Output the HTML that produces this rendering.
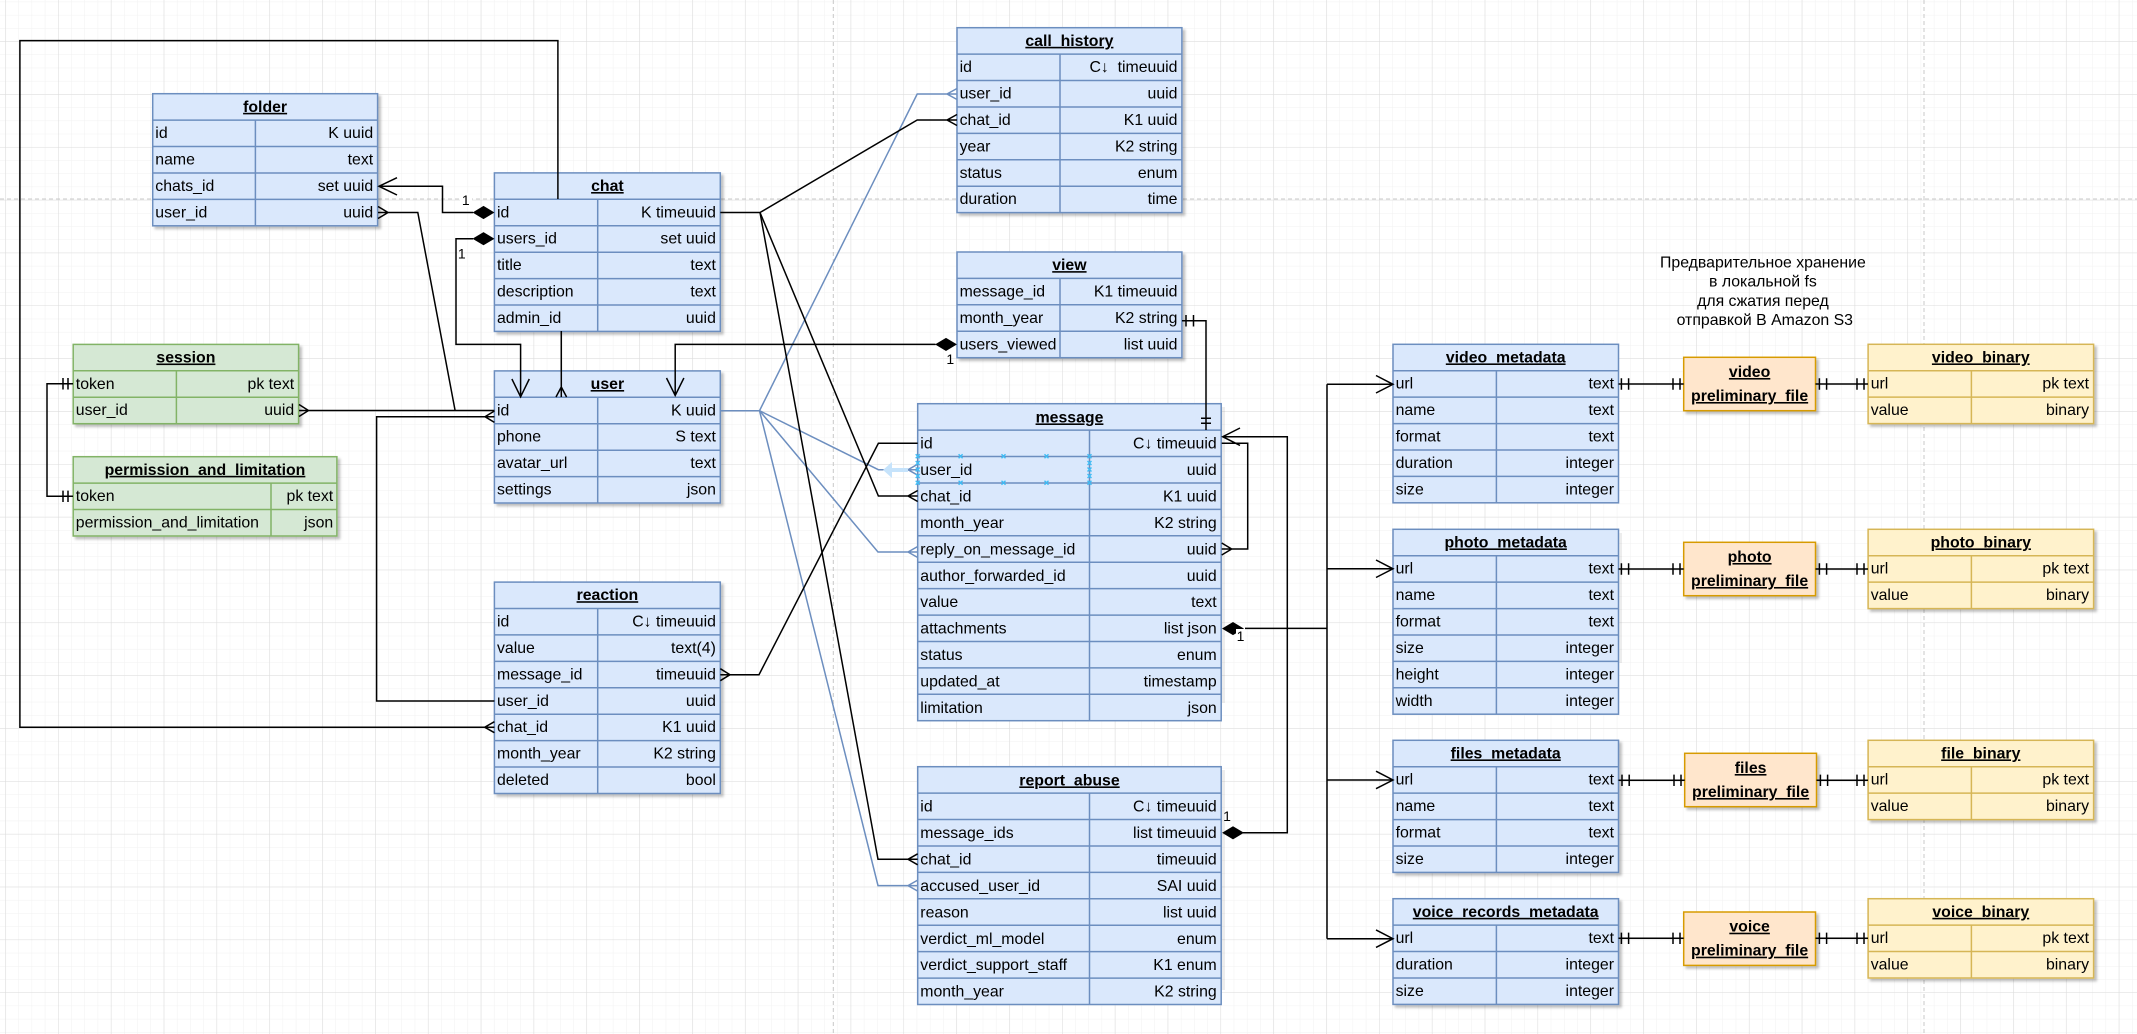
<!DOCTYPE html>
<html><head><meta charset="utf-8"><style>
html,body{margin:0;padding:0;background:#fff;width:2137px;height:1034px;overflow:hidden}
svg{display:block}
text{font-family:"Liberation Sans","Noto Sans CJK SC",sans-serif;font-size:15.85px;fill:#000;white-space:pre}
.r{text-anchor:end}
.t{font-weight:bold;text-decoration:underline;text-anchor:middle}
.n{font-size:14px;text-anchor:middle}
.c{text-anchor:middle}
.b rect,.b path{fill:#dae8fc;stroke:#6c8ebf;stroke-width:1.5}
.g rect,.g path{fill:#d5e8d4;stroke:#82b366;stroke-width:1.5}
.y rect,.y path{fill:#fff2cc;stroke:#d6b656;stroke-width:1.5}
.o rect{fill:#ffe6cc;stroke:#d79b00;stroke-width:1.5}
.s rect{filter:url(#sh)}
.b text,.g text,.y text{transform:translateY(-.9px)}
.b.h text{transform:translateY(-.3px)}
.k path{fill:none;stroke:#000;stroke-width:1.5}
.u path{fill:none;stroke:#6c8ebf;stroke-width:1.5}
.d polygon{fill:#000;stroke:#000;stroke-width:1}
.m path{fill:none;stroke:#3fbcf5;stroke-width:1.4}
</style></head><body>
<svg width="2137" height="1034" viewBox="0 0 2137 1034" xmlns="http://www.w3.org/2000/svg">
<defs>
<pattern id="gmin" width="13.21" height="13.21" patternUnits="userSpaceOnUse" patternTransform="translate(5.2 41.3)"><path d="M0 0H13.21M0 0V13.21" fill="none" stroke="#f1f1f1" stroke-width="1"/></pattern>
<pattern id="gmaj" width="52.84" height="52.84" patternUnits="userSpaceOnUse" patternTransform="translate(5.2 41.3)"><path d="M0 0H52.84M0 0V52.84" fill="none" stroke="#dcdcdc" stroke-width="1.1"/></pattern>
<filter id="sh" x="-5%" y="-5%" width="115%" height="115%"><feDropShadow dx="2.6" dy="2.6" stdDeviation="1.4" flood-color="#000" flood-opacity=".25"/></filter>
</defs>
<rect width="2137" height="1034" fill="#fff"/>
<rect width="2137" height="1034" fill="url(#gmin)"/>
<rect width="2137" height="1034" fill="url(#gmaj)"/>
<path d="M0 199H2137M833.3 0V1034M1924 0V1034" fill="none" stroke="#c8c8c8" stroke-width="1" stroke-dasharray="4 3"/>

<!-- soft side shadows for tables without a bottom shadow -->
<g fill="#000" opacity=".07">
<rect x="1222" y="407" width="3" height="296"/>
<rect x="1222" y="770" width="3" height="220"/>
<rect x="1619.5" y="533" width="2.5" height="130"/>
</g>

<!-- folder -->
<g class="b s" transform="translate(152.7 93.7)"><rect width="224.9" height="132.1"/><path d="M0 26.4H224.9M0 52.8H224.9M0 79.3H224.9M0 105.7H224.9M102.7 26.4V132.1"/>
<text class="t" x="112.4" y="19">folder</text>
<text x="2.6" y="45.3">id</text><text class="r" x="220.5" y="45.3">K uuid</text>
<text x="2.6" y="71.7">name</text><text class="r" x="220.5" y="71.7">text</text>
<text x="2.6" y="98.2">chats_id</text><text class="r" x="220.5" y="98.2">set uuid</text>
<text x="2.6" y="124.6">user_id</text><text class="r" x="220.5" y="124.6">uuid</text></g>

<!-- chat -->
<g class="b s" transform="translate(494.4 172.9)"><rect width="225.9" height="158.5"/><path d="M0 26.4H225.9M0 52.8H225.9M0 79.3H225.9M0 105.7H225.9M0 132.1H225.9M103.3 26.4V158.5"/>
<text class="t" x="113" y="19">chat</text>
<text x="2.6" y="45.3">id</text><text class="r" x="221.5" y="45.3">K timeuuid</text>
<text x="2.6" y="71.7">users_id</text><text class="r" x="221.5" y="71.7">set uuid</text>
<text x="2.6" y="98.2">title</text><text class="r" x="221.5" y="98.2">text</text>
<text x="2.6" y="124.6">description</text><text class="r" x="221.5" y="124.6">text</text>
<text x="2.6" y="151">admin_id</text><text class="r" x="221.5" y="151">uuid</text></g>

<!-- session -->
<g class="g s" transform="translate(73.2 344.4)"><rect width="225.4" height="79.3"/><path d="M0 26.4H225.4M0 52.8H225.4M103.2 26.4V79.3"/>
<text class="t" x="112.7" y="19">session</text>
<text x="2.6" y="45.3">token</text><text class="r" x="221" y="45.3">pk text</text>
<text x="2.6" y="71.7">user_id</text><text class="r" x="221" y="71.7">uuid</text></g>

<!-- permission -->
<g class="g s" transform="translate(73.2 456.7)"><rect width="263.7" height="79.3"/><path d="M0 26.4H263.7M0 52.8H263.7M197.8 26.4V79.3"/>
<text class="t" x="131.8" y="19">permission_and_limitation</text>
<text x="2.6" y="45.3">token</text><text class="r" x="260" y="45.3">pk text</text>
<text x="2.6" y="71.7">permission_and_limitation</text><text class="r" x="260" y="71.7">json</text></g>

<!-- user -->
<g class="b s" transform="translate(494.4 370.9)"><rect width="225.9" height="132.1"/><path d="M0 26.4H225.9M0 52.8H225.9M0 79.3H225.9M0 105.7H225.9M103.3 26.4V132.1"/>
<text class="t" x="113" y="19">user</text>
<text x="2.6" y="45.3">id</text><text class="r" x="221.5" y="45.3">K uuid</text>
<text x="2.6" y="71.7">phone</text><text class="r" x="221.5" y="71.7">S text</text>
<text x="2.6" y="98.2">avatar_url</text><text class="r" x="221.5" y="98.2">text</text>
<text x="2.6" y="124.6">settings</text><text class="r" x="221.5" y="124.6">json</text></g>

<!-- reaction -->
<g class="b s" transform="translate(494.4 582.1)"><rect width="225.9" height="211.4"/><path d="M0 26.4H225.9M0 52.8H225.9M0 79.3H225.9M0 105.7H225.9M0 132.1H225.9M0 158.5H225.9M0 184.9H225.9M103.3 26.4V211.4"/>
<text class="t" x="113" y="19">reaction</text>
<text x="2.6" y="45.3">id</text><text class="r" x="221.5" y="45.3">C↓ timeuuid</text>
<text x="2.6" y="71.7">value</text><text class="r" x="221.5" y="71.7">text(4)</text>
<text x="2.6" y="98.2">message_id</text><text class="r" x="221.5" y="98.2">timeuuid</text>
<text x="2.6" y="124.6">user_id</text><text class="r" x="221.5" y="124.6">uuid</text>
<text x="2.6" y="151">chat_id</text><text class="r" x="221.5" y="151">K1 uuid</text>
<text x="2.6" y="177.4">month_year</text><text class="r" x="221.5" y="177.4">K2 string</text>
<text x="2.6" y="203.8">deleted</text><text class="r" x="221.5" y="203.8">bool</text></g>

<!-- call_history -->
<g class="b s" transform="translate(957 27.7)"><rect width="224.9" height="184.9"/><path d="M0 26.4H224.9M0 52.8H224.9M0 79.3H224.9M0 105.7H224.9M0 132.1H224.9M0 158.5H224.9M103 26.4V184.9"/>
<text class="t" x="112.4" y="19">call_history</text>
<text x="2.6" y="45.3">id</text><text class="r" x="220.5" y="45.3">C↓  timeuuid</text>
<text x="2.6" y="71.7">user_id</text><text class="r" x="220.5" y="71.7">uuid</text>
<text x="2.6" y="98.2">chat_id</text><text class="r" x="220.5" y="98.2">K1 uuid</text>
<text x="2.6" y="124.6">year</text><text class="r" x="220.5" y="124.6">K2 string</text>
<text x="2.6" y="151">status</text><text class="r" x="220.5" y="151">enum</text>
<text x="2.6" y="177.4">duration</text><text class="r" x="220.5" y="177.4">time</text></g>

<!-- view -->
<g class="b s" transform="translate(957 252)"><rect width="224.9" height="105.7"/><path d="M0 26.4H224.9M0 52.8H224.9M0 79.3H224.9M103 26.4V105.7"/>
<text class="t" x="112.4" y="19">view</text>
<text x="2.6" y="45.3">message_id</text><text class="r" x="220.5" y="45.3">K1 timeuuid</text>
<text x="2.6" y="71.7">month_year</text><text class="r" x="220.5" y="71.7">K2 string</text>
<text x="2.6" y="98.2">users_viewed</text><text class="r" x="220.5" y="98.2">list uuid</text></g>

<!-- message -->
<g class="b h" transform="translate(917.7 403.7)"><rect width="303.5" height="317"/><path d="M0 26.4H303.5M0 52.8H303.5M0 79.3H303.5M0 105.7H303.5M0 132.1H303.5M0 158.5H303.5M0 184.9H303.5M0 211.4H303.5M0 237.8H303.5M0 264.2H303.5M0 290.6H303.5M171.8 26.4V317"/>
<text class="t" x="151.8" y="19">message</text>
<text x="2.6" y="45.3">id</text><text class="r" x="299" y="45.3">C↓ timeuuid</text>
<text x="2.6" y="71.7">user_id</text><text class="r" x="299" y="71.7">uuid</text>
<text x="2.6" y="98.2">chat_id</text><text class="r" x="299" y="98.2">K1 uuid</text>
<text x="2.6" y="124.6">month_year</text><text class="r" x="299" y="124.6">K2 string</text>
<text x="2.6" y="151">reply_on_message_id</text><text class="r" x="299" y="151">uuid</text>
<text x="2.6" y="177.4">author_forwarded_id</text><text class="r" x="299" y="177.4">uuid</text>
<text x="2.6" y="203.8">value</text><text class="r" x="299" y="203.8">text</text>
<text x="2.6" y="230.3">attachments</text><text class="r" x="299" y="230.3">list json</text>
<text x="2.6" y="256.7">status</text><text class="r" x="299" y="256.7">enum</text>
<text x="2.6" y="283.1">updated_at</text><text class="r" x="299" y="283.1">timestamp</text>
<text x="2.6" y="309.5">limitation</text><text class="r" x="299" y="309.5">json</text></g>

<!-- report_abuse -->
<g class="b h" transform="translate(917.7 766.7)"><rect width="303.5" height="237.8"/><path d="M0 26.4H303.5M0 52.8H303.5M0 79.3H303.5M0 105.7H303.5M0 132.1H303.5M0 158.5H303.5M0 184.9H303.5M0 211.4H303.5M171.8 26.4V237.8"/>
<text class="t" x="151.8" y="19">report_abuse</text>
<text x="2.6" y="45.3">id</text><text class="r" x="299" y="45.3">C↓ timeuuid</text>
<text x="2.6" y="71.7">message_ids</text><text class="r" x="299" y="71.7">list timeuuid</text>
<text x="2.6" y="98.2">chat_id</text><text class="r" x="299" y="98.2">timeuuid</text>
<text x="2.6" y="124.6">accused_user_id</text><text class="r" x="299" y="124.6">SAI uuid</text>
<text x="2.6" y="151">reason</text><text class="r" x="299" y="151">list uuid</text>
<text x="2.6" y="177.4">verdict_ml_model</text><text class="r" x="299" y="177.4">enum</text>
<text x="2.6" y="203.8">verdict_support_staff</text><text class="r" x="299" y="203.8">K1 enum</text>
<text x="2.6" y="230.3">month_year</text><text class="r" x="299" y="230.3">K2 string</text></g>

<!-- video_metadata -->
<g class="b" transform="translate(1393 344.3)"><rect width="225.5" height="158.5"/><path d="M0 26.4H225.5M0 52.8H225.5M0 79.3H225.5M0 105.7H225.5M0 132.1H225.5M103.4 26.4V158.5"/>
<text class="t" x="112.7" y="19">video_metadata</text>
<text x="2.6" y="45.3">url</text><text class="r" x="221" y="45.3">text</text>
<text x="2.6" y="71.7">name</text><text class="r" x="221" y="71.7">text</text>
<text x="2.6" y="98.2">format</text><text class="r" x="221" y="98.2">text</text>
<text x="2.6" y="124.6">duration</text><text class="r" x="221" y="124.6">integer</text>
<text x="2.6" y="151">size</text><text class="r" x="221" y="151">integer</text></g>

<!-- photo_metadata -->
<g class="b" transform="translate(1393 529.3)"><rect width="225.5" height="184.9"/><path d="M0 26.4H225.5M0 52.8H225.5M0 79.3H225.5M0 105.7H225.5M0 132.1H225.5M0 158.5H225.5M103.4 26.4V184.9"/>
<text class="t" x="112.7" y="19">photo_metadata</text>
<text x="2.6" y="45.3">url</text><text class="r" x="221" y="45.3">text</text>
<text x="2.6" y="71.7">name</text><text class="r" x="221" y="71.7">text</text>
<text x="2.6" y="98.2">format</text><text class="r" x="221" y="98.2">text</text>
<text x="2.6" y="124.6">size</text><text class="r" x="221" y="124.6">integer</text>
<text x="2.6" y="151">height</text><text class="r" x="221" y="151">integer</text>
<text x="2.6" y="177.4">width</text><text class="r" x="221" y="177.4">integer</text></g>

<!-- files_metadata -->
<g class="b s" transform="translate(1393 740.3)"><rect width="225.5" height="132.1"/><path d="M0 26.4H225.5M0 52.8H225.5M0 79.3H225.5M0 105.7H225.5M103.4 26.4V132.1"/>
<text class="t" x="112.7" y="19">files_metadata</text>
<text x="2.6" y="45.3">url</text><text class="r" x="221" y="45.3">text</text>
<text x="2.6" y="71.7">name</text><text class="r" x="221" y="71.7">text</text>
<text x="2.6" y="98.2">format</text><text class="r" x="221" y="98.2">text</text>
<text x="2.6" y="124.6">size</text><text class="r" x="221" y="124.6">integer</text></g>

<!-- voice_records_metadata -->
<g class="b s" transform="translate(1393 898.7)"><rect width="225.5" height="105.7"/><path d="M0 26.4H225.5M0 52.8H225.5M0 79.3H225.5M103.4 26.4V105.7"/>
<text class="t" x="112.7" y="19">voice_records_metadata</text>
<text x="2.6" y="45.3">url</text><text class="r" x="221" y="45.3">text</text>
<text x="2.6" y="71.7">duration</text><text class="r" x="221" y="71.7">integer</text>
<text x="2.6" y="98.2">size</text><text class="r" x="221" y="98.2">integer</text></g>

<!-- binaries -->
<g class="y s" transform="translate(1868.1 344.3)"><rect width="225.5" height="79.3"/><path d="M0 26.4H225.5M0 52.8H225.5M103.3 26.4V79.3"/>
<text class="t" x="112.7" y="19">video_binary</text>
<text x="2.6" y="45.3">url</text><text class="r" x="221" y="45.3">pk text</text>
<text x="2.6" y="71.7">value</text><text class="r" x="221" y="71.7">binary</text></g>
<g class="y s" transform="translate(1868.1 529.3)"><rect width="225.5" height="79.3"/><path d="M0 26.4H225.5M0 52.8H225.5M103.3 26.4V79.3"/>
<text class="t" x="112.7" y="19">photo_binary</text>
<text x="2.6" y="45.3">url</text><text class="r" x="221" y="45.3">pk text</text>
<text x="2.6" y="71.7">value</text><text class="r" x="221" y="71.7">binary</text></g>
<g class="y s" transform="translate(1868.1 740.3)"><rect width="225.5" height="79.3"/><path d="M0 26.4H225.5M0 52.8H225.5M103.3 26.4V79.3"/>
<text class="t" x="112.7" y="19">file_binary</text>
<text x="2.6" y="45.3">url</text><text class="r" x="221" y="45.3">pk text</text>
<text x="2.6" y="71.7">value</text><text class="r" x="221" y="71.7">binary</text></g>
<g class="y s" transform="translate(1868.1 898.7)"><rect width="225.5" height="79.3"/><path d="M0 26.4H225.5M0 52.8H225.5M103.3 26.4V79.3"/>
<text class="t" x="112.7" y="19">voice_binary</text>
<text x="2.6" y="45.3">url</text><text class="r" x="221" y="45.3">pk text</text>
<text x="2.6" y="71.7">value</text><text class="r" x="221" y="71.7">binary</text></g>

<!-- preliminary -->
<g class="o s" transform="translate(1683.7 357.3)"><rect width="131.8" height="53.4"/><text class="t" x="65.9" y="19.7">video</text><text class="t" x="65.9" y="43.7">preliminary_file</text></g>
<g class="o s" transform="translate(1683.7 542.3)"><rect width="131.8" height="53.4"/><text class="t" x="65.9" y="19.7">photo</text><text class="t" x="65.9" y="43.7">preliminary_file</text></g>
<g class="o s" transform="translate(1684.7 753.3)"><rect width="131.8" height="53.4"/><text class="t" x="65.9" y="19.7">files</text><text class="t" x="65.9" y="43.7">preliminary_file</text></g>
<g class="o s" transform="translate(1683.7 912)"><rect width="131.8" height="53.4"/><text class="t" x="65.9" y="19.7">voice</text><text class="t" x="65.9" y="43.7">preliminary_file</text></g>

<!-- note -->
<text class="c" x="1762.9" y="267.7">Предварительное хранение</text>
<text class="c" x="1762.9" y="286.7">в локальной fs</text>
<text class="c" x="1762.9" y="306">для сжатия перед</text>
<text class="c" x="1764.8" y="325">отправкой В Amazon S3</text>

<!-- blue connectors -->
<g class="u">
<path d="M720.3 410.7H759.5L917.2 94H957M957 88.5L947 94L957 99.5"/>
<path d="M759.5 410.7L878.4 469.7H917.7M917.7 464.2L908 469.7L917.7 475.2"/>
<path d="M759.5 410.7L878 552H917.7M917.7 546.5L908 552L917.7 557.5"/>
<path d="M759.5 410.7L878 885.6H917.7M917.7 880.1L908 885.6L917.7 891.1"/>
</g>

<!-- black connectors -->
<g class="k">
<path d="M557.9 199V40.6H19.9V727.2H494.4M494.4 721.7L484.7 727.2L494.4 732.7"/>
<path d="M397 177.7L379 186.3L397 195M379 186.3H442.5V212.5H473"/>
<path d="M473 238.7H456V344.4H520.6V396.8M511.9 379L520.6 396.8L529.3 379"/>
<path d="M378 206.5L388 212.5L378 218.5M378 212.5H417.8L455.1 410.5"/>
<path d="M299 404.5L308.5 410.5L299 416.5M299 410.5H494.4"/>
<path d="M561.3 331V397M556 397L561.3 387L566.6 397"/>
<path d="M494.4 416.7H376.6V701H494.4M494.4 411L485 416.7L494.4 422.4"/>
<path d="M73 383.7H47V496.3H73M63 378V389.5M68 378V389.5M63 490.6V502M68 490.6V502"/>
<path d="M935.5 344.4H675.2V395.4M666.5 378L675.2 395.4L683.9 378"/>
<path d="M1182 320.7H1206V430M1186 315V326.5M1193.5 315V326.5M1201 418.3H1211M1201 423.3H1211"/>
<path d="M720.3 212.5H760L917.2 120H957M957 114.5L947 120L957 125.5"/>
<path d="M760 212.5L878.4 496H917.7M917.7 490.5L908 496L917.7 501.5"/>
<path d="M760 212.5L878 859.3H917.7M917.7 853.8L908 859.3L917.7 864.8"/>
<path d="M720.3 668.7L730 674.7L720.3 680.7M720.3 674.7H759L878.4 443.3H917.7"/>
<path d="M1221.7 543L1231.7 549L1221.7 555M1221.7 549H1247.7V443.3H1221.7"/>
<path d="M1240 428L1222.7 436.7L1240 445.4M1222.7 436.7H1287.3V832.8H1243"/>
<path d="M1245 628.4H1327M1327 384.3V938.7"/>
<path d="M1327 384.3H1393M1376 375.5L1393 384.3L1376 393"/>
<path d="M1327 568.8H1393M1376 560L1393 568.8L1376 577.5"/>
<path d="M1327 780H1393M1376 771.2L1393 780L1376 788.7"/>
<path d="M1327 938.7H1393M1376 929.9L1393 938.7L1376 947.4"/>
<!-- metadata to preliminary to binary -->
<path d="M1618.5 384H1683.7M1621.4 378.3V389.7M1628.6 378.3V389.7M1673 378.3V389.7M1680 378.3V389.7"/>
<path d="M1815.5 384H1868M1819.4 378.3V389.7M1826.6 378.3V389.7M1857 378.3V389.7M1864 378.3V389.7"/>
<path d="M1618.5 569H1683.7M1621.4 563.3V574.7M1628.6 563.3V574.7M1673 563.3V574.7M1680 563.3V574.7"/>
<path d="M1815.5 569H1868M1819.4 563.3V574.7M1826.6 563.3V574.7M1857 563.3V574.7M1864 563.3V574.7"/>
<path d="M1618.5 780.3H1684.7M1622 774.6V786M1629.2 774.6V786M1674 774.6V786M1681 774.6V786"/>
<path d="M1816.5 780.3H1868M1820.4 774.6V786M1827.6 774.6V786M1857 774.6V786M1864 774.6V786"/>
<path d="M1618.5 938.3H1683.7M1621.4 932.6V944M1628.6 932.6V944M1673 932.6V944M1680 932.6V944"/>
<path d="M1815.5 938.3H1868M1819.4 932.6V944M1826.6 932.6V944M1857 932.6V944M1864 932.6V944"/>
</g>

<!-- diamonds -->
<g class="d">
<polygon points="473.5,212.5 483.5,206.5 493.5,212.5 483.5,218.5"/>
<polygon points="473.5,238.7 483.5,232.7 493.5,238.7 483.5,244.7"/>
<polygon points="936,344.4 946,338.4 956,344.4 946,350.4"/>
<polygon points="1223,628.6 1233,622.6 1243,628.6 1233,634.6"/>
<polygon points="1223,832.8 1233,826.8 1243,832.8 1233,838.8"/>
</g>

<!-- cardinality labels -->
<rect x="460" y="193" width="12" height="14" fill="#fff"/>
<text class="n" x="465.8" y="205">1</text>
<text class="n" x="461.8" y="258.4">1</text>
<text class="n" x="950.3" y="364">1</text>
<rect x="1236" y="629" width="9" height="13" fill="#fff"/>
<text class="n" x="1240.5" y="640.8">1</text>
<text class="n" x="1227" y="821">1</text>

<!-- selection markers on message.user_id -->
<polygon points="883,470 892,462 892,468 908,468 908,472 892,472 892,478" fill="#c6e3fb"/>
<g class="m">
<path d="M915.7 454.3l4 4m0-4l-4 4M958.6 454.3l4 4m0-4l-4 4M1001.5 454.3l4 4m0-4l-4 4M1044.5 454.3l4 4m0-4l-4 4M1087.5 454.3l4 4m0-4l-4 4"/>
<path d="M915.7 480.7l4 4m0-4l-4 4M958.6 480.7l4 4m0-4l-4 4M1001.5 480.7l4 4m0-4l-4 4M1044.5 480.7l4 4m0-4l-4 4M1087.5 480.7l4 4m0-4l-4 4"/>
<path d="M915.7 461l4 4m0-4l-4 4M915.7 467.5l4 4m0-4l-4 4M915.7 474l4 4m0-4l-4 4M1087.5 461l4 4m0-4l-4 4M1087.5 467.5l4 4m0-4l-4 4M1087.5 474l4 4m0-4l-4 4"/>
</g>
</svg>
</body></html>
